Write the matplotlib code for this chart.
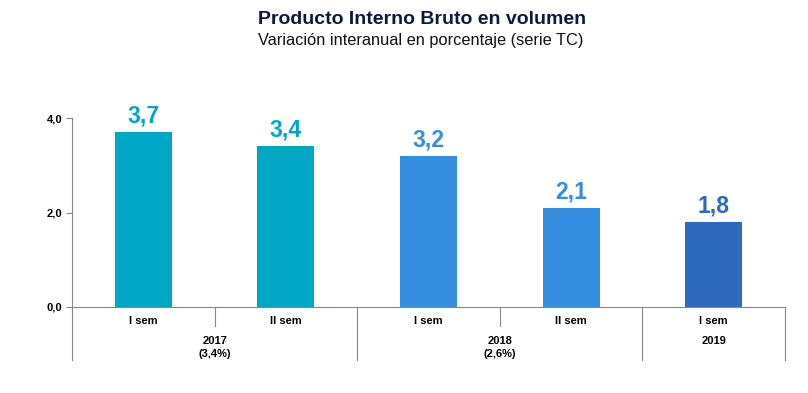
import matplotlib
matplotlib.use("Agg")
import matplotlib.pyplot as plt

plt.rcParams['font.family'] = ['Liberation Sans', 'DejaVu Sans']

# Data
semesters = ["I sem", "II sem", "I sem", "II sem", "I sem"]
values = [3.7, 3.4, 3.2, 2.1, 1.8]
value_labels = ["3,7", "3,4", "3,2", "2,1", "1,8"]
years = ["2017\n(3,4%)", "2018\n(2,6%)", "2019"]
year_spans = [(0, 2), (2, 4), (4, 5)]
bar_colors = ["#00a6c6", "#00a6c6", "#368ee0", "#368ee0", "#2d69bc"]

fig = plt.figure(figsize=(8.08, 3.93), dpi=100)
ax = fig.add_axes([72/808, 1 - 307/393, (785-72)/808, (307-118)/393])

x = range(len(values))
ax.bar(x, values, width=0.4, color=bar_colors)
for xi, v, lab, c in zip(x, values, value_labels, bar_colors):
    ax.text(xi, v + 0.2, lab, ha="center", va="baseline", fontsize=16.5,
            fontweight="bold", color=c)

ax.set_xlim(-0.5, len(values) - 0.5)
ax.set_ylim(0, 4.0)
ax.set_yticks([0, 2, 4])
ax.set_yticklabels(["0,0", "2,0", "4,0"], fontsize=8, fontweight="bold")
ax.tick_params(axis="y", length=4, color="#888888", pad=3)
ax.set_xticks([])

for s in ["top", "right"]:
    ax.spines[s].set_visible(False)
ax.spines["left"].set_color("#888888")
ax.spines["bottom"].set_color("#888888")

# category labels under the axis
trans = ax.get_xaxis_transform()
for xi, s in zip(x, semesters):
    ax.text(xi, -0.075, s, transform=trans, ha="center", va="center",
            fontsize=8, fontweight="bold")

# separators
for xi in [0.5, 2.5]:
    ax.plot([xi, xi], [0, -0.1], transform=trans, color="#888888", lw=0.8, clip_on=False)
for xi in [-0.5, 1.5, 3.5, 4.5]:
    ax.plot([xi, xi], [0, -0.28], transform=trans, color="#888888", lw=0.8, clip_on=False)

for (a, b), yl in zip(year_spans, years):
    ax.text((a + b - 1) / 2, -0.155, yl, transform=trans, ha="center", va="top",
            fontsize=8, fontweight="bold", linespacing=1.3)

fig.text(0.522, 1 - 19/393, "Producto Interno Bruto en volumen", ha="center", va="center",
         fontsize=14, fontweight="bold", color="#0b1a3c")
fig.text(0.521, 1 - 41/393, "Variación interanual en porcentaje (serie TC)", ha="center",
         va="center", fontsize=11.8, color="#111111")

fig.savefig("out.png", dpi=100)
